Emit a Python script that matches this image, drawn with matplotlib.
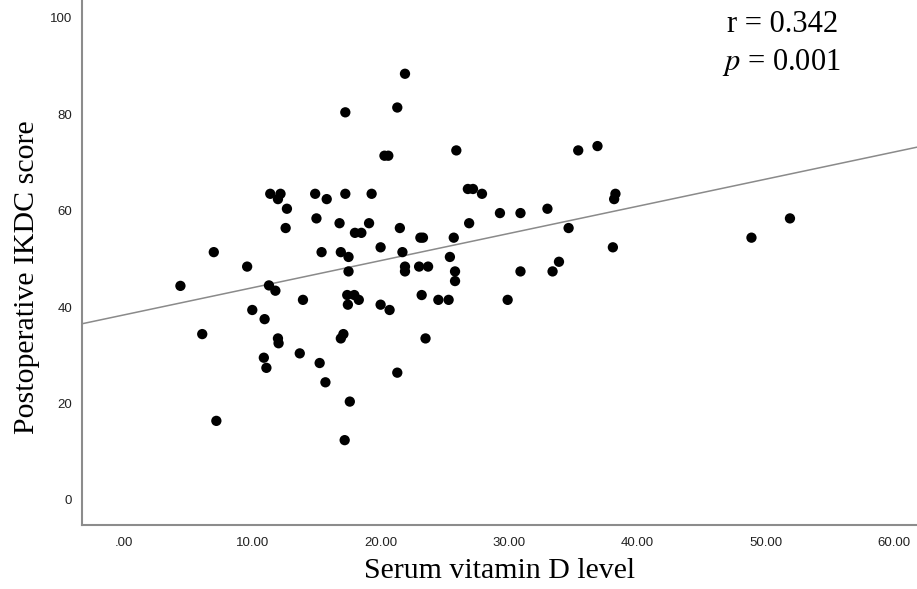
import numpy as np
import matplotlib
matplotlib.use("Agg")
import matplotlib.pyplot as plt
from matplotlib.ticker import FuncFormatter

# serum vitamin D level vs postoperative IKDC score
vit_d = [21.9, 21.3, 17.25, 20.3, 20.6, 25.9, 35.4, 36.9, 11.4, 12.2,
         12.0, 12.7, 14.9, 15.8, 17.25, 19.3, 15.0, 12.6, 16.8, 18.0,
         18.5, 19.1, 21.5, 23.1, 23.3, 25.7, 7.0, 15.4, 16.9, 17.5,
         20.0, 21.7, 25.4, 9.6, 17.5, 21.9, 21.9, 23.0, 23.7, 25.8,
         25.8, 4.4, 11.3, 11.8, 13.95, 17.4, 17.95, 18.3, 17.45, 20.0,
         20.7, 23.2, 24.5, 25.3, 10.0, 10.96, 6.1, 12.0, 12.05, 16.9,
         17.1, 23.5, 13.7, 10.9, 11.1, 15.25, 15.7, 21.3, 17.6, 7.2,
         17.2, 26.8, 27.2, 27.9, 29.3, 30.9, 33.0, 26.9, 34.65, 38.3,
         38.2, 38.1, 48.9, 51.9, 30.9, 33.4, 33.9, 29.9]
ikdc = [88.4, 81.4, 80.4, 71.4, 71.4, 72.5, 72.5, 73.4, 63.5, 63.5,
        62.4, 60.4, 63.5, 62.4, 63.5, 63.5, 58.4, 56.4, 57.4, 55.4,
        55.4, 57.4, 56.4, 54.4, 54.4, 54.4, 51.4, 51.4, 51.4, 50.4,
        52.4, 51.4, 50.4, 48.4, 47.4, 48.4, 47.4, 48.4, 48.4, 47.4,
        45.4, 44.4, 44.5, 43.4, 41.5, 42.5, 42.5, 41.5, 40.5, 40.5,
        39.4, 42.5, 41.5, 41.5, 39.4, 37.5, 34.4, 33.5, 32.5, 33.5,
        34.4, 33.5, 30.4, 29.5, 27.4, 28.4, 24.4, 26.4, 20.4, 16.4,
        12.4, 64.5, 64.5, 63.5, 59.5, 59.5, 60.4, 57.4, 56.4, 63.5,
        62.4, 52.4, 54.4, 58.4, 47.4, 47.4, 49.4, 41.5]

plt.rcParams["mathtext.fontset"] = "stix"

fig = plt.figure(figsize=(9.17, 5.89), dpi=100)
ax = fig.add_axes([82 / 917, 64 / 589, 835 / 917, 525 / 589])

x = np.array(vit_d)
y = np.array(ikdc)
ax.scatter(x, y, s=55, color="black", edgecolors="none", zorder=3)

# fit line across the whole axis
xmin, xmax = -3.27, 61.8
slope, icept = np.polyfit(x, y, 1)
xs = np.array([xmin, xmax])
ax.plot(xs, icept + slope * xs, color="#8a8a8a", lw=1.1, zorder=2)

ax.set_xlim(xmin, xmax)
ax.set_ylim(-5.2, 103.7)
ax.set_xticks([0, 10, 20, 30, 40, 50, 60])
ax.set_yticks([0, 20, 40, 60, 80, 100])
ax.xaxis.set_major_formatter(FuncFormatter(lambda v, p: ".00" if v == 0 else f"{v:.2f}"))

for s in ["top", "right"]:
    ax.spines[s].set_visible(False)
for s in ["left", "bottom"]:
    ax.spines[s].set_color("#8c8c8c")
    ax.spines[s].set_linewidth(1.5)

ax.tick_params(length=0, labelsize=9.5, labelcolor="#222222")
ax.tick_params(axis="x", pad=9)
ax.tick_params(axis="y", pad=7)
for lab in ax.get_xticklabels() + ax.get_yticklabels():
    lab.set_family("Liberation Sans")

ax.set_xlabel("Serum vitamin D level", family="Liberation Serif", fontsize=21.5, labelpad=6)
ax.set_ylabel("Postoperative IKDC score", family="Liberation Serif", fontsize=21.5)
ax.yaxis.set_label_coords(-0.050, 0.472)

ax.text(727 / 917, 1 - 25 / 589, "r = 0.342", transform=fig.transFigure,
        family="Liberation Serif", fontsize=22, va="center", ha="left")
ax.text(722 / 917, 1 - 62 / 589, "$p$ = 0.001", transform=fig.transFigure,
        family="Liberation Serif", fontsize=22, va="center", ha="left")

fig.savefig("out.png", dpi=100)
